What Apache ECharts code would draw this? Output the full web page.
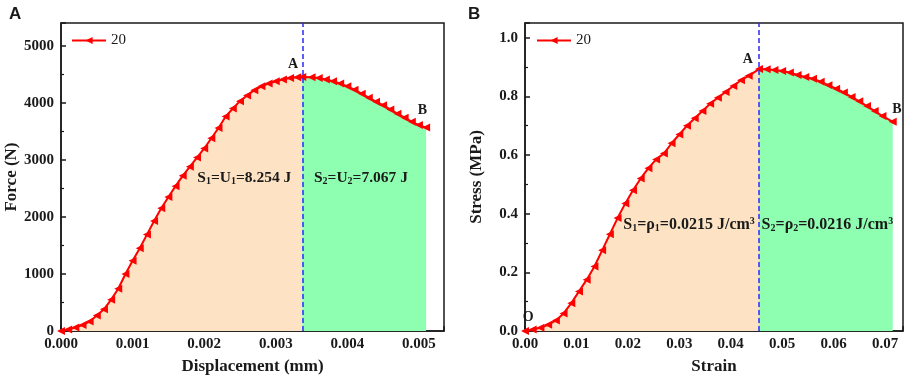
<!DOCTYPE html>
<html>
<head>
<meta charset="utf-8">
<script src="https://cdn.jsdelivr.net/npm/echarts@6/dist/echarts.min.js"></script>
<style>
  html, body { margin: 0; padding: 0; background: #fff; }
  #chart { width: 913px; height: 380px; }
</style>
</head>
<body>
<div id="chart"></div>
<script>
// panel A: force vs displacement
const dispX = [0, 0.0001, 0.0002, 0.0003, 0.0004, 0.0005, 0.0006, 0.0007, 0.0008, 0.0009,
  0.0010, 0.0011, 0.0012, 0.0013, 0.0014, 0.0015, 0.0016, 0.0017, 0.0018, 0.0019,
  0.0020, 0.0021, 0.0022, 0.0023, 0.0024, 0.0025, 0.0026, 0.0027, 0.0028, 0.0029,
  0.0030, 0.0031, 0.0032, 0.0033, 0.00337, 0.0035, 0.0036, 0.0037, 0.0038, 0.0039,
  0.0040, 0.0041, 0.0042, 0.0043, 0.0044, 0.0045, 0.0046, 0.0047, 0.0048, 0.0049,
  0.0050, 0.0051];
const forceY = [0, 25, 60, 105, 165, 270, 380, 550, 740, 1000,
  1230, 1450, 1690, 1930, 2150, 2350, 2540, 2720, 2880, 3040,
  3200, 3380, 3560, 3760, 3900, 4030, 4130, 4220, 4290, 4340,
  4380, 4410, 4435, 4450, 4455, 4450, 4435, 4410, 4380, 4340,
  4290, 4230, 4160, 4090, 4020, 3960, 3885, 3810, 3740, 3670,
  3610, 3570];
const peakDisp = 0.00337;

// panel B: stress vs strain
const strainX = [0, 0.0015, 0.003, 0.0045, 0.006, 0.0075, 0.009, 0.0105, 0.012, 0.0135,
  0.015, 0.0165, 0.018, 0.0195, 0.021, 0.0225, 0.024, 0.0255, 0.027, 0.0285,
  0.030, 0.0315, 0.033, 0.0345, 0.036, 0.0375, 0.039, 0.0405, 0.042, 0.0435,
  0.0455, 0.047, 0.0485, 0.050, 0.0515, 0.053, 0.0545, 0.056, 0.0575, 0.059,
  0.0605, 0.062, 0.0635, 0.065, 0.0665, 0.068, 0.0695, 0.0715];
const stressY = [0, 0.005, 0.011, 0.021, 0.036, 0.060, 0.095, 0.135, 0.175, 0.220,
  0.275, 0.330, 0.385, 0.435, 0.480, 0.520, 0.555, 0.585, 0.605, 0.640,
  0.670, 0.700, 0.725, 0.750, 0.775, 0.795, 0.815, 0.835, 0.855, 0.870,
  0.893, 0.892, 0.890, 0.886, 0.881, 0.873, 0.866, 0.860, 0.850, 0.838,
  0.826, 0.813, 0.798, 0.783, 0.767, 0.750, 0.733, 0.713];
const peakStrain = 0.0455;

const serif = 'Liberation Serif';
const ink = '#1a1a1a';

const pairsA = dispX.map((x, i) => [x, forceY[i]]);
const pairsB = strainX.map((x, i) => [x, stressY[i]]);

function richText(size) {
    return {
        b: { fontFamily: serif, fontWeight: 'bold', fontSize: size, color: ink },
        s: { fontFamily: serif, fontWeight: 'bold', fontSize: 10, color: ink, verticalAlign: 'bottom', padding: [7, 0, 0, 0] },
        p: { fontFamily: serif, fontWeight: 'bold', fontSize: 10, color: ink, verticalAlign: 'top', padding: [0, 0, 6, 0] }
    };
}

function note(coord, text, size) {
    return {
        coord: coord,
        symbol: 'circle',
        symbolSize: 0,
        label: {
            show: true,
            position: 'inside',
            formatter: text,
            fontFamily: serif,
            fontWeight: 'bold',
            fontSize: size,
            color: ink,
            rich: richText(size)
        }
    };
}

function xAxisFor(gridIndex, name, max, interval, digits) {
    return {
        gridIndex: gridIndex,
        type: 'value',
        min: 0,
        max: max,
        interval: interval,
        name: name,
        nameLocation: 'middle',
        nameGap: 27,
        nameTextStyle: { fontFamily: serif, fontWeight: 'bold', fontSize: 17, color: ink },
        axisLine: { lineStyle: { color: ink, width: 1.5 } },
        axisTick: { inside: true, length: 5, lineStyle: { color: ink, width: 1.5 } },
        minorTick: { show: true, splitNumber: 2, length: 3, lineStyle: { color: ink, width: 1.2 } },
        axisLabel: {
            fontFamily: serif, fontWeight: 'bold', fontSize: 15, color: ink, margin: 6,
            showMaxLabel: false,
            formatter: v => v.toFixed(digits)
        },
        splitLine: { show: false }
    };
}

function yAxisFor(gridIndex, name, max, interval, digits) {
    return {
        gridIndex: gridIndex,
        type: 'value',
        min: 0,
        max: max,
        interval: interval,
        name: name,
        nameLocation: 'middle',
        nameGap: 40,
        nameTextStyle: { fontFamily: serif, fontWeight: 'bold', fontSize: 17, color: ink },
        axisLine: { lineStyle: { color: ink, width: 1.5 } },
        axisTick: { inside: true, length: 5, lineStyle: { color: ink, width: 1.5 } },
        minorTick: { show: true, splitNumber: 2, length: 3, lineStyle: { color: ink, width: 1.2 } },
        axisLabel: {
            fontFamily: serif, fontWeight: 'bold', fontSize: 15, color: ink, margin: 7,
            showMaxLabel: false,
            formatter: v => v.toFixed(digits)
        },
        splitLine: { show: false }
    };
}

function areaSeries(idx, data, color) {
    return {
        type: 'line',
        xAxisIndex: idx,
        yAxisIndex: idx,
        data: data,
        symbol: 'none',
        lineStyle: { width: 0 },
        areaStyle: { color: color, opacity: 1 },
        silent: true,
        z: 1
    };
}

function curveSeries(idx, data, peak, notes) {
    return {
        name: '20',
        type: 'line',
        xAxisIndex: idx,
        yAxisIndex: idx,
        data: data,
        symbol: 'triangle',
        symbolSize: 8,
        symbolRotate: 90,
        itemStyle: { color: '#ff0000' },
        lineStyle: { color: '#ff0000', width: 2 },
        z: 3,
        markLine: {
            silent: true,
            symbol: 'none',
            precision: 6,
            label: { show: false },
            lineStyle: { color: '#2a2aff', type: [5, 3], width: 1.5 },
            data: [{ xAxis: peak }]
        },
        markPoint: { silent: true, data: notes }
    };
}

const chart = echarts.init(document.getElementById('chart'));

const option = {
    animation: false,
    title: [
        { text: 'A', left: 4, top: 1, textStyle: { fontFamily: 'Liberation Sans', fontWeight: 'bold', fontSize: 17, color: ink } },
        { text: 'B', left: 463, top: 1, textStyle: { fontFamily: 'Liberation Sans', fontWeight: 'bold', fontSize: 17, color: ink } }
    ],
    legend: [
        {
            data: ['20'], left: 66, top: 28, itemWidth: 34, itemHeight: 9, itemGap: 4,
            textStyle: { fontFamily: serif, fontSize: 15, color: ink }
        },
        {
            data: ['20'], left: 531, top: 28, itemWidth: 34, itemHeight: 9, itemGap: 4,
            textStyle: { fontFamily: serif, fontSize: 15, color: ink }
        }
    ],
    grid: [
        { left: 61, right: 469, top: 23, bottom: 49, show: true, borderColor: ink, borderWidth: 1.5 },
        { left: 525, right: 10, top: 23, bottom: 49, show: true, borderColor: ink, borderWidth: 1.5 }
    ],
    xAxis: [
        xAxisFor(0, 'Displacement (mm)', 0.00535, 0.001, 3),
        xAxisFor(1, 'Strain', 0.0735, 0.01, 2)
    ],
    yAxis: [
        yAxisFor(0, 'Force (N)', 5400, 1000, 0),
        yAxisFor(1, 'Stress (MPa)', 1.05, 0.2, 1)
    ],
    series: [
        areaSeries(0, pairsA.filter(p => p[0] <= peakDisp), '#fde3c4'),
        areaSeries(0, pairsA.filter(p => p[0] >= peakDisp), '#8effb1'),
        curveSeries(0, pairsA, peakDisp, [
            note([0.00324, 4680], 'A', 14),
            note([0.00505, 3870], 'B', 14),
            note([0.00256, 2690], '{b|S}{s|1}{b|=U}{s|1}{b|=8.254 J}', 15.5),
            note([0.00419, 2690], '{b|S}{s|2}{b|=U}{s|2}{b|=7.067 J}', 15.5)
        ]),
        areaSeries(1, pairsB.filter(p => p[0] <= peakStrain), '#fde3c4'),
        areaSeries(1, pairsB.filter(p => p[0] >= peakStrain), '#8effb1'),
        curveSeries(1, pairsB, peakStrain, [
            note([0.0433, 0.926], 'A', 14),
            note([0.0723, 0.756], 'B', 14),
            note([0.0006, 0.045], 'O', 14),
            note([0.0319, 0.362], '{b|S}{s|1}{b|=ρ}{s|1}{b|=0.0215 J/cm}{p|3}', 16),
            note([0.0588, 0.362], '{b|S}{s|2}{b|=ρ}{s|2}{b|=0.0216 J/cm}{p|3}', 16)
        ])
    ]
};

chart.setOption(option);
</script>
</body>
</html>
